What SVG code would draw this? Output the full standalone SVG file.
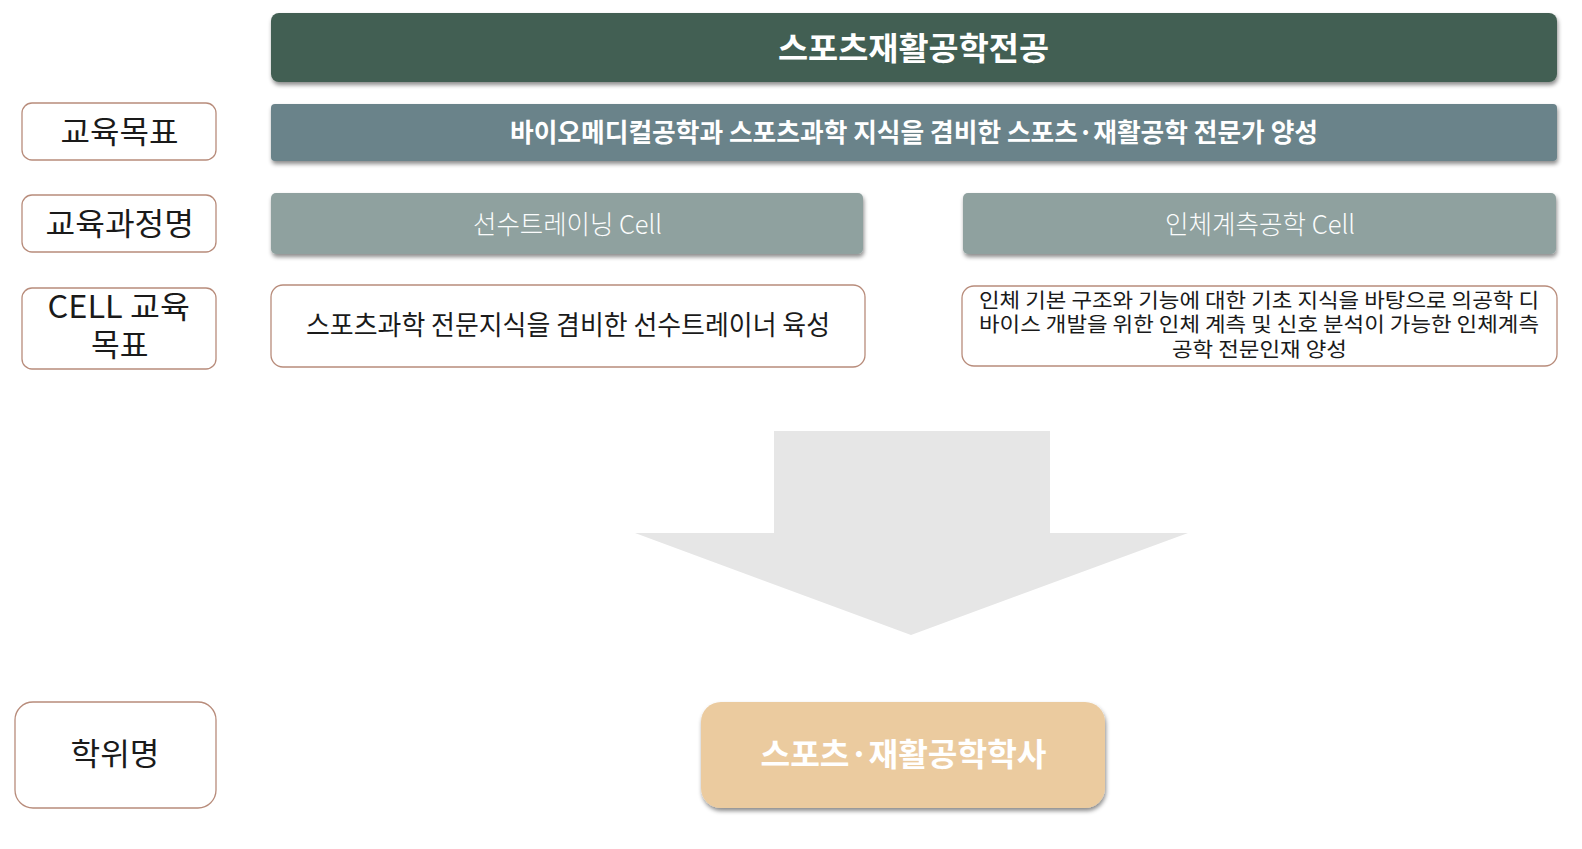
<svg xmlns="http://www.w3.org/2000/svg" width="1582" height="849" viewBox="0 0 1582 849">
<style>
.t{font-family:"Noto Sans CJK KR","Noto Sans",sans-serif;}
.lbl{fill:#fff;stroke:#b88c7b;stroke-width:1.3;}
.dark{fill:#1a1a1a;font-size:31px;}
.wb{fill:#fff;font-weight:700;}
.hd{fill:#fbfcfc;font-size:26px;font-weight:300;}
.ds{fill:#1a1a1a;}
</style>
<defs>
<filter id="sh" x="-5%" y="-20%" width="110%" height="150%">
<feDropShadow dx="1" dy="3" stdDeviation="2" flood-color="#000" flood-opacity="0.45"/>
</filter>
</defs>
<rect width="1582" height="849" fill="#fff"/>
<g id="connectors">
<polygon points="774,431 1050,431 1050,533 1188,533 911,635 635,533 774,533" fill="#e6e6e6"/>
</g>
<g id="title">
<rect x="271" y="13" width="1286" height="69" rx="8" fill="#435f52" filter="url(#sh)"/>
<text class="t wb" x="778" y="60" font-size="32" textLength="271" lengthAdjust="spacingAndGlyphs">스포츠재활공학전공</text>
</g>
<g id="goal">
<rect x="271" y="104" width="1286" height="57" rx="4" fill="#6b838a" filter="url(#sh)"/>
<text class="t wb" x="510" y="141.5" font-size="26" textLength="808" lengthAdjust="spacingAndGlyphs">바이오메디컬공학과 스포츠과학 지식을 겸비한 스포츠·재활공학 전문가 양성</text>
</g>
<g id="label-goal">
<rect class="lbl" x="22" y="103" width="194" height="57" rx="10"/>
<text class="t dark" x="60.5" y="142.5" textLength="118" lengthAdjust="spacingAndGlyphs">교육목표</text>
</g>
<g id="label-course">
<rect class="lbl" x="22" y="195" width="194" height="57" rx="10"/>
<text class="t dark" x="45.5" y="234.5" textLength="148.5" lengthAdjust="spacingAndGlyphs">교육과정명</text>
</g>
<g id="label-cell">
<rect class="lbl" x="22" y="288" width="194" height="81" rx="10"/>
<text class="t dark" x="47.5" y="318" textLength="142.5" lengthAdjust="spacingAndGlyphs">CELL 교육</text>
<text class="t dark" x="91" y="356" textLength="57.5" lengthAdjust="spacingAndGlyphs">목표</text>
</g>
<g id="cell-trainer">
<rect x="271" y="193" width="592" height="61" rx="5" fill="#8fa19f" filter="url(#sh)"/>
<text class="t hd" x="473" y="233.5" textLength="189" lengthAdjust="spacingAndGlyphs">선수트레이닝 Cell</text>
</g>
<g id="cell-measure">
<rect x="963" y="193" width="593" height="61" rx="5" fill="#8fa19f" filter="url(#sh)"/>
<text class="t hd" x="1165" y="233.5" textLength="190" lengthAdjust="spacingAndGlyphs">인체계측공학 Cell</text>
</g>
<g id="desc-trainer">
<rect class="lbl" x="271" y="285" width="594" height="82" rx="12"/>
<text class="t ds" x="306" y="334.5" font-size="27" textLength="524" lengthAdjust="spacingAndGlyphs">스포츠과학 전문지식을 겸비한 선수트레이너 육성</text>
</g>
<g id="desc-measure">
<rect class="lbl" x="962" y="286" width="595" height="80" rx="12"/>
<text class="t ds" x="979" y="307.5" font-size="20.5" textLength="560" lengthAdjust="spacingAndGlyphs">인체 기본 구조와 기능에 대한 기초 지식을 바탕으로 의공학 디</text>
<text class="t ds" x="979" y="331.8" font-size="20.5" textLength="560" lengthAdjust="spacingAndGlyphs">바이스 개발을 위한 인체 계측 및 신호 분석이 가능한 인체계측</text>
<text class="t ds" x="1172" y="357" font-size="20.5" textLength="175" lengthAdjust="spacingAndGlyphs">공학 전문인재 양성</text>
</g>
<g id="label-degree">
<rect class="lbl" x="15" y="702" width="201" height="106" rx="18"/>
<text class="t dark" x="70.5" y="765" textLength="89" lengthAdjust="spacingAndGlyphs">학위명</text>
</g>
<g id="degree">
<rect x="701" y="702" width="404" height="106" rx="20" fill="#ebcb9f" filter="url(#sh)"/>
<text class="t wb" x="760.5" y="766" font-size="32" textLength="286" lengthAdjust="spacingAndGlyphs">스포츠·재활공학학사</text>
</g>
</svg>
